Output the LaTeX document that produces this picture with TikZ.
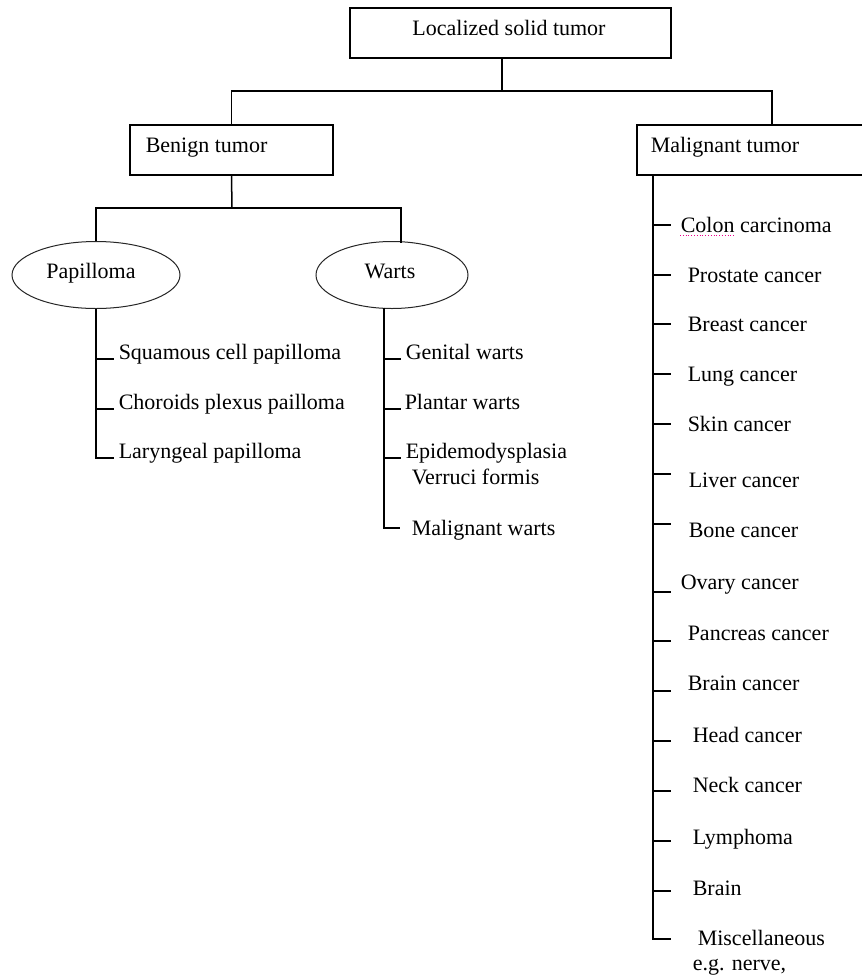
\documentclass[tikz,border=0pt]{standalone}
\usepackage{fontspec}
\setmainfont{Liberation Serif}
\usetikzlibrary{shapes.geometric}
\begin{document}
\begin{tikzpicture}[x=1pt,y=-1pt,line width=1.5pt,
  txt/.style={font=\fontsize{22}{26}\selectfont, inner sep=0pt},
  lbl/.style={txt, anchor=base west},
  boxnode/.style={draw, rectangle, inner sep=0pt, line width=1.5pt},
  oval/.style={draw=black!85, ellipse, inner sep=0pt, line width=1pt}]
\useasboundingbox (0,0) rectangle (862,978);
\fill[white] (0,0) rectangle (862,978);

% boxes
\node[boxnode, minimum width=321pt, minimum height=50pt] (top) at (510.5,33) {};
\node[txt, anchor=base] (toptxt) at (509,35) {Localized solid tumor};
\node[boxnode, minimum width=203pt, minimum height=50pt] (benign) at (231.5,150) {};
\node[lbl] (benigntxt) at (145,152) {Benign tumor};
\node[boxnode, minimum width=270pt, minimum height=50pt] (malig) at (772,150) {};
\node[lbl] (maligtxt) at (650,152) {Malignant tumor};

% ellipses
\node[oval, minimum width=168pt, minimum height=67pt] (pap) at (96,275) {};
\node[txt, anchor=base] (paptxt) at (91,278) {Papilloma};
\node[oval, minimum width=152pt, minimum height=67pt] (wart) at (392,275) {};
\node[txt, anchor=base] (warttxt) at (390,278) {Warts};

% top level connectors
\coordinate (j1) at (502,91);
\draw (top.south -| j1) -- (j1);
\draw (benign.north) |- (j1) -| (malig.north);
\coordinate (j2) at (232,208);
\coordinate (wtop) at (401,242.5);
\draw (benign.south) -- (j2);
\draw (pap.north) |- (j2) -| (wtop);

% papilloma list
\node[lbl, inner xsep=4pt] (sq) at (114,359) {Squamous cell papilloma};
\node[lbl, inner xsep=4pt] (ch) at (114,409) {Choroids plexus pailloma};
\node[lbl, inner xsep=4pt] (la) at (114,458) {Laryngeal papilloma};
\draw (pap.south) |- (la.base west);
\draw (pap.south |- sq.base west) -- (sq.base west);
\draw (pap.south |- ch.base west) -- (ch.base west);

% warts list
\coordinate (ws) at (384,307.5);
\node[lbl, inner xsep=4pt] (ge) at (401,359) {Genital warts};
\node[lbl, inner xsep=3pt] (pl) at (401,409) {Plantar warts};
\node[lbl, inner xsep=4pt] (ep) at (401,458) {Epidemodysplasia};
\node[lbl] (ve) at (411,484) {Verruci formis};
\node[lbl] (mw) at (411,535) {Malignant warts};
\coordinate (mwt) at (400,528);
\draw (ws) |- (mwt);
\draw (ws |- ge.base west) -- (ge.base west);
\draw (ws |- pl.base west) -- (pl.base west);
\draw (ws |- ep.base west) -- (ep.base west);

% malignant list
\coordinate (ms) at (653,174);
\foreach \n/\ty/\tx/\by/\t in {
  1/225/680/232/Colon carcinoma,
  2/275/687/282/Prostate cancer,
  3/324/687/331/Breast cancer,
  4/374/687/381/Lung cancer,
  5/424/687/431/Skin cancer,
  6/474/688/487/Liver cancer,
  7/524/688/537/Bone cancer,
  8/592/680/589/Ovary cancer,
  9/641/687/640/Pancreas cancer,
  10/691/687/690/Brain cancer,
  11/741/692/742/Head cancer,
  12/791/692/792/Neck cancer,
  13/841/692/844/Lymphoma,
  14/891/692/895/Brain,
  15/939/697/945/Miscellaneous}{
  \coordinate (mt\n) at (671,\ty);
  \node[lbl] (ml\n) at (\tx,\by) {\t};
  \draw (ms |- mt\n) -- (mt\n);
}
\node[lbl] (eg) at (692,970) {e.g. nerve,};
\draw (ms) |- (mt15);
\draw[magenta, dotted, line width=0.8pt] ([yshift=-3pt]ml1.base west) -- ++(54,0);
\end{tikzpicture}
\end{document}
